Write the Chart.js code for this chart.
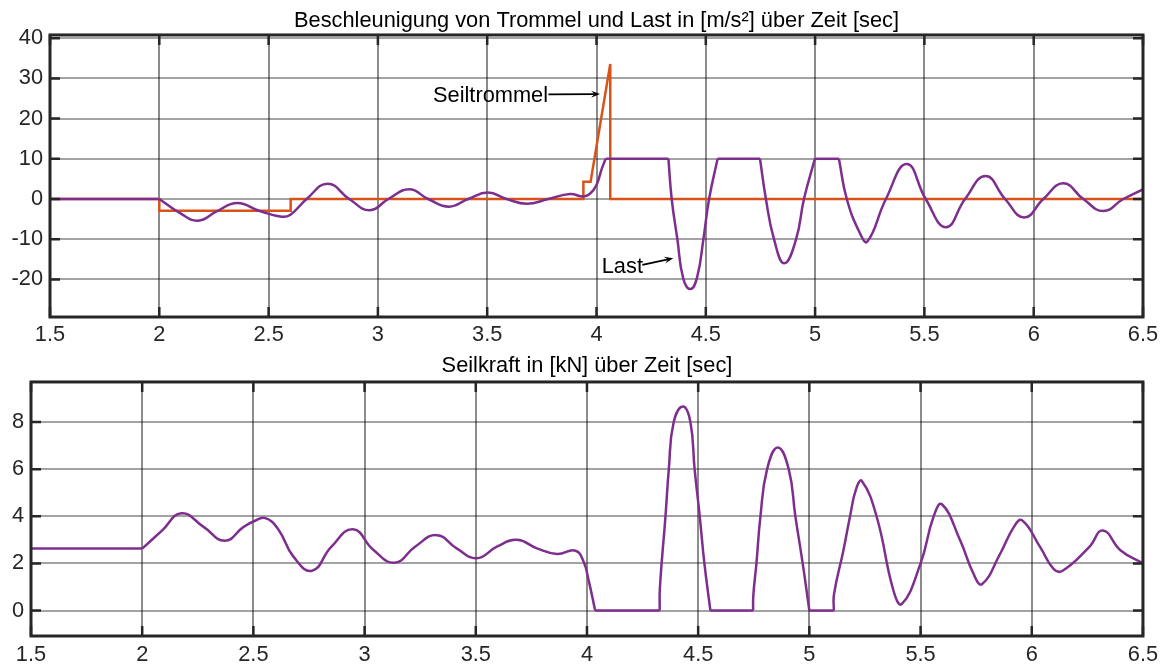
<!DOCTYPE html>
<html>
<head>
<meta charset="utf-8">
<script src="https://cdn.jsdelivr.net/npm/chart.js@4.4.1/dist/chart.umd.min.js"></script>
<style>
  html, body { margin: 0; padding: 0; background: #ffffff; }
  #wrap { position: relative; width: 1164px; height: 666px; overflow: hidden; }
  canvas { position: absolute; left: 0; }
  #accel { top: 0; }
  #force { top: 340px; }
</style>
</head>
<body>
<div id="wrap">
  <canvas id="accel" width="1164" height="350"></canvas>
  <canvas id="force" width="1164" height="326"></canvas>
</div>
<script>
// Tick values
const timeTicks  = [1.5, 2, 2.5, 3, 3.5, 4, 4.5, 5, 5.5, 6, 6.5];
const accelTicks = [-20, -10, 0, 10, 20, 30, 40];
const forceTicks = [0, 2, 4, 6, 8];

// Beschleunigung der Last [m/s²]
const loadTime  = [1.5, 2.0, 2.095, 2.177, 2.262, 2.356, 2.46, 2.56, 2.60, 2.674, 2.77, 2.869, 2.962, 3.048,
                   3.144, 3.23, 3.325, 3.413, 3.503, 3.589, 3.681, 3.779, 3.879, 3.94, 3.97, 4.0, 4.024, 4.042,
                   4.329, 4.344, 4.370, 4.397, 4.431, 4.461, 4.489, 4.515, 4.554, 4.748, 4.775, 4.812, 4.859,
                   4.913, 4.949, 4.999, 5.109, 5.145, 5.205, 5.239, 5.324, 5.419, 5.506, 5.599, 5.686, 5.780,
                   5.869, 5.957, 6.044, 6.135, 6.227, 6.318, 6.41, 6.5];
const loadAccel = [0, 0, -3.5, -5.4, -3.1, -1.0, -3.0, -4.4, -3.9, 0, 3.8, 0, -2.8, 0,
                   2.4, 0, -1.9, 0, 1.6, 0, -1.2, 0, 1.25, 0.6, 1.3, 3.5, 7.5, 10,
                   10, 0, -10, -19.8, -22.4, -19.3, -10, 0, 10, 10, 0, -10, -16.0,
                   -10, 0, 10, 10, 0, -8.5, -10.6, 0, 8.7, 0, -7.0, 0, 5.7,
                   0, -4.6, 0, 3.9, 0, -3.0, 0, 2.4];

// Beschleunigung der Seiltrommel [m/s²]
const drumTime  = [1.5, 2.0, 2.0, 2.601, 2.601, 3.940, 3.940, 3.973, 4.063, 4.063, 6.5];
const drumAccel = [0, 0, -2.9, -2.9, 0, 0, 4.3, 4.3, 33.6, 0, 0];

// Seilkraft [kN]
const forceTime  = [1.5, 2.0, 2.09, 2.176, 2.276, 2.371, 2.456, 2.5, 2.554, 2.613, 2.68, 2.764, 2.85, 2.948,
                    3.04, 3.136, 3.227, 3.324, 3.414, 3.504, 3.595, 3.685, 3.775, 3.865, 3.948, 3.985, 4.007,
                    4.037, 4.327, 4.328, 4.353, 4.368, 4.390, 4.432, 4.465, 4.484, 4.507, 4.528, 4.555,
                    4.747, 4.748, 4.762, 4.780, 4.810, 4.858, 4.907, 4.937, 4.970, 5.0,
                    5.110, 5.111, 5.153, 5.183, 5.21, 5.236, 5.303, 5.378, 5.416, 5.5, 5.559, 5.596, 5.678,
                    5.738, 5.776, 5.858, 5.919, 5.956, 6.038, 6.098, 6.137, 6.258, 6.320, 6.40, 6.5];
const forceValue = [2.63, 2.63, 3.4, 4.13, 3.55, 2.96, 3.55, 3.78, 3.92, 3.43, 2.29, 1.69, 2.7, 3.45,
                    2.57, 2.03, 2.71, 3.2, 2.64, 2.22, 2.71, 3.0, 2.64, 2.4, 2.54, 2.07, 1.3,
                    0, 0, 0.99, 4.0, 6.0, 8.0, 8.66, 8.0, 6.0, 4.0, 2.0, 0,
                    0, 0.64, 2, 4, 6, 6.92, 6, 4, 2, 0,
                    0, 0.7, 2.55, 4.0, 5.15, 5.5, 3.97, 0.85, 0.28, 2.0, 4.0, 4.51, 2.98,
                    1.56, 1.12, 2.41, 3.54, 3.83, 2.69, 1.77, 1.68, 2.69, 3.40, 2.55, 2.0];

const PURPLE = '#7E2F8E';
const ORANGE = '#D95319';
const TEXT = '#262626';
const FONT = "'Liberation Sans', Arial, Helvetica, sans-serif";
const FS = 21.8;

// Split a series into runs: constant stretches are drawn straight,
// the oscillating stretches between them as smooth splines.
function lineDatasets(xs, ys, label, color) {
  const runs = [];
  let flat = ys[1] === ys[0];
  let pts = [{ x: xs[0], y: ys[0] }];
  for (let i = 1; i < xs.length; i++) {
    const isFlat = ys[i] === ys[i - 1];
    if (isFlat !== flat) {
      runs.push({ flat, pts });
      pts = [{ x: xs[i - 1], y: ys[i - 1] }];
      flat = isFlat;
    }
    pts.push({ x: xs[i], y: ys[i] });
  }
  runs.push({ flat, pts });
  return runs.map(r => ({
    label: label,
    data: r.pts,
    borderColor: color,
    borderWidth: 2.5,
    tension: r.flat ? 0 : 0.46,
    fill: false
  }));
}

// Axes box with inward tick marks on all four sides
const framePlugin = {
  id: 'frame',
  afterDatasetsDraw(chart) {
    const { ctx, chartArea: a, scales } = chart;
    const tl = 10;
    ctx.save();
    ctx.strokeStyle = TEXT;
    ctx.lineWidth = 2.5;
    ctx.beginPath();
    scales.x.ticks.forEach(t => {
      const px = scales.x.getPixelForValue(t.value);
      ctx.moveTo(px, a.bottom); ctx.lineTo(px, a.bottom - tl);
      ctx.moveTo(px, a.top);    ctx.lineTo(px, a.top + tl);
    });
    scales.y.ticks.forEach(t => {
      const py = scales.y.getPixelForValue(t.value);
      ctx.moveTo(a.left, py);  ctx.lineTo(a.left + tl, py);
      ctx.moveTo(a.right, py); ctx.lineTo(a.right - tl, py);
    });
    ctx.stroke();
    ctx.lineWidth = 3;
    ctx.strokeRect(a.left, a.top, a.right - a.left, a.bottom - a.top);
    ctx.restore();
  }
};

// Text labels with arrows, placed in data coordinates
const arrowLabelPlugin = {
  id: 'arrowLabels',
  afterDatasetsDraw(chart, args, opts) {
    const items = opts.items || [];
    const { ctx, scales } = chart;
    ctx.save();
    items.forEach(it => {
      const tx = scales.x.getPixelForValue(it.x);
      const ty = scales.y.getPixelForValue(it.y);
      ctx.font = FS + 'px ' + FONT;
      ctx.fillStyle = '#000000';
      ctx.textAlign = 'left';
      ctx.textBaseline = 'middle';
      ctx.fillText(it.text, tx, ty);
      const x0 = scales.x.getPixelForValue(it.from[0]);
      const y0 = scales.y.getPixelForValue(it.from[1]);
      const x1 = scales.x.getPixelForValue(it.to[0]);
      const y1 = scales.y.getPixelForValue(it.to[1]);
      const ang = Math.atan2(y1 - y0, x1 - x0);
      const c = Math.cos(ang), s = Math.sin(ang);
      const hl = 9, hw = 3.5;
      ctx.strokeStyle = '#000000';
      ctx.lineWidth = 1.8;
      ctx.beginPath();
      ctx.moveTo(x0, y0);
      ctx.lineTo(x1 - hl * 0.6 * c, y1 - hl * 0.6 * s);
      ctx.stroke();
      ctx.beginPath();
      ctx.moveTo(x1, y1);
      ctx.lineTo(x1 - hl * c + hw * s, y1 - hl * s - hw * c);
      ctx.lineTo(x1 - hl * 0.6 * c, y1 - hl * 0.6 * s);
      ctx.lineTo(x1 - hl * c - hw * s, y1 - hl * s + hw * c);
      ctx.closePath();
      ctx.fillStyle = '#000000';
      ctx.fill();
    });
    ctx.restore();
  }
};

function makeOptions(cfg) {
  return {
    responsive: false,
    maintainAspectRatio: false,
    animation: false,
    devicePixelRatio: 1,
    layout: { padding: { left: 0, right: 21, top: 0, bottom: 0 } },
    elements: { point: { radius: 0, hoverRadius: 0 } },
    plugins: {
      legend: { display: false },
      tooltip: { enabled: false },
      title: {
        display: true,
        text: cfg.title,
        fullSize: false,
        color: '#000000',
        font: { family: FONT, size: FS, weight: 'normal', lineHeight: 1.2 },
        padding: cfg.titlePad
      },
      arrowLabels: { items: cfg.labels || [] }
    },
    scales: {
      x: {
        type: 'linear',
        min: 1.5, max: 6.5,
        afterBuildTicks: s => { s.ticks = timeTicks.map(v => ({ value: v })); },
        afterFit: s => { s.height = cfg.xHeight; },
        ticks: {
          color: TEXT,
          font: { family: FONT, size: FS, lineHeight: 1.2 },
          padding: cfg.xPad,
          maxRotation: 0,
          autoSkip: false,
          callback: v => String(v)
        },
        grid: { color: 'rgba(0,0,0,0.45)', lineWidth: 2, drawTicks: false },
        border: { display: false }
      },
      y: {
        type: 'linear',
        min: cfg.yMin, max: cfg.yMax,
        afterBuildTicks: s => { s.ticks = cfg.yTicks.map(v => ({ value: v })); },
        afterFit: s => { s.width = cfg.yWidth; },
        ticks: {
          color: TEXT,
          font: { family: FONT, size: FS, lineHeight: 1.2 },
          padding: 7,
          autoSkip: false,
          callback: v => String(v)
        },
        grid: { color: 'rgba(0,0,0,0.36)', lineWidth: 2, drawTicks: false },
        border: { display: false }
      }
    }
  };
}

new Chart(document.getElementById('accel'), {
  type: 'line',
  data: {
    datasets: [
      ...lineDatasets(loadTime, loadAccel, 'Last', PURPLE),
      {
        label: 'Seiltrommel',
        data: drumTime.map((x, i) => ({ x: x, y: drumAccel[i] })),
        borderColor: ORANGE,
        borderWidth: 2.5,
        tension: 0,
        fill: false
      }
    ]
  },
  options: makeOptions({
    title: 'Beschleunigung von Trommel und Last in [m/s²] über Zeit [sec]',
    titlePad: { top: 7.9, bottom: 0.9 },
    xHeight: 33, xPad: 4.9,
    yWidth: 50, yMin: -29.35, yMax: 40.8, yTicks: accelTicks,
    labels: [
      { text: 'Seiltrommel', x: 3.252, y: 25.6, from: [3.78, 26.0], to: [4.016, 26.1] },
      { text: 'Last', x: 4.024, y: -16.9, from: [4.21, -16.4], to: [4.351, -14.75] }
    ]
  }),
  plugins: [framePlugin, arrowLabelPlugin]
});

new Chart(document.getElementById('force'), {
  type: 'line',
  data: {
    datasets: lineDatasets(forceTime, forceValue, 'Seilkraft', PURPLE)
  },
  options: makeOptions({
    title: 'Seilkraft in [kN] über Zeit [sec]',
    titlePad: { top: 12.9, bottom: 2.9 },
    xHeight: 30, xPad: 5.9,
    yWidth: 31, yMin: -1.08, yMax: 9.7, yTicks: forceTicks
  }),
  plugins: [framePlugin, arrowLabelPlugin]
});
</script>
</body>
</html>
